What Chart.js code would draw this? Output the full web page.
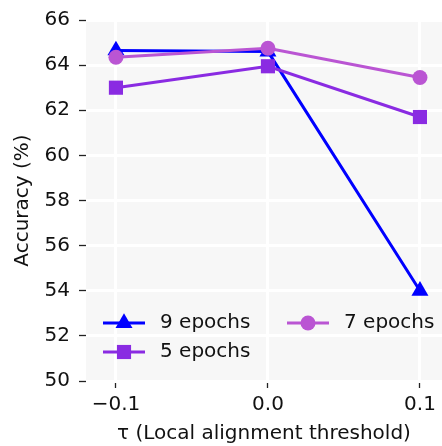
<!DOCTYPE html>
<html>
<head>
<meta charset="utf-8">
<script src="https://cdn.jsdelivr.net/npm/chart.js@4/dist/chart.umd.min.js"></script>
<style>
  html, body { margin: 0; padding: 0; background: #fff; }
  #wrap { width: 442px; height: 446px; }
</style>
</head>
<body>
<div id="wrap"><canvas id="chartTau" width="442" height="446"></canvas></div>
<script>
// ── Datos ──
const tauValues  = [-0.1, 0.0, 0.1];
const tauLabels  = ['\u22120.1', '0.0', '0.1'];
const yTicks     = [50, 52, 54, 56, 58, 60, 62, 64, 66];
const acc9epochs = [64.65, 64.6, 54.0];
const acc5epochs = [63.0, 63.95, 61.7];
const acc7epochs = [64.35, 64.75, 63.45];

const FONT = "'DejaVu Sans', sans-serif";
const C9 = '#0000ff', C5 = '#8a2be2', C7 = '#ba55d3';

const series = [
    { label: '9 epochs', data: acc9epochs, color: C9, style: 'triangle', radius: 9.8, order: 3 },
    { label: '5 epochs', data: acc5epochs, color: C5, style: 'rect',     radius: 10,  order: 2 },
    { label: '7 epochs', data: acc7epochs, color: C7, style: 'circle',   radius: 7.5, order: 1 }
];

// ── Fondo gris claro del área de la gráfica ──
const bgPlugin = {
    id: 'bgArea',
    beforeDraw(chart) {
        const a = chart.chartArea, ctx = chart.ctx;
        ctx.save();
        ctx.fillStyle = '#f7f7f7';
        ctx.fillRect(a.left, a.top, a.right - a.left, a.bottom - a.top);
        ctx.restore();
    }
};

// ── Marcador para la leyenda ──
function _marker(ctx, style, x, y, r, color) {
    ctx.fillStyle = color;
    ctx.beginPath();
    if (style === 'triangle') {
        ctx.moveTo(x, y - r);
        ctx.lineTo(x + Math.sin(2 * Math.PI / 3) * r, y + r / 2);
        ctx.lineTo(x - Math.sin(2 * Math.PI / 3) * r, y + r / 2);
        ctx.closePath();
    } else if (style === 'rect') {
        const s = r * Math.SQRT1_2;
        ctx.rect(x - s, y - s, 2 * s, 2 * s);
    } else {
        ctx.arc(x, y, r, 0, Math.PI * 2);
    }
    ctx.fill();
}

// ── Leyenda en dos columnas (orden por columna, como matplotlib) ──
const legendPlugin = {
    id: 'legendCols',
    afterDatasetsDraw(chart) {
        const a = chart.chartArea, ctx = chart.ctx;
        const slots = [
            { dx: 17,  dy: -58 },
            { dx: 17,  dy: -29 },
            { dx: 201, dy: -58 }
        ];
        ctx.save();
        series.forEach((s, i) => {
            const x0 = a.left + slots[i].dx;
            const y  = a.bottom + slots[i].dy;
            ctx.strokeStyle = s.color;
            ctx.lineWidth = 3;
            ctx.beginPath();
            ctx.moveTo(x0, y);
            ctx.lineTo(x0 + 42, y);
            ctx.stroke();
            _marker(ctx, s.style, x0 + 21, y, s.radius, s.color);
            ctx.fillStyle = '#111';
            ctx.font = '20px ' + FONT;
            ctx.textBaseline = 'middle';
            ctx.textAlign = 'left';
            ctx.fillText(s.label, x0 + 57, y);
        });
        ctx.restore();
    }
};

new Chart(document.getElementById('chartTau'), {
    type: 'line',
    data: {
        datasets: series.map(s => ({
            label: s.label,
            data: tauValues.map((t, i) => ({ x: t, y: s.data[i] })),
            borderColor: s.color,
            backgroundColor: s.color,
            borderWidth: 3,
            pointStyle: s.style,
            pointRadius: s.radius,
            pointBorderWidth: 0,
            pointHoverRadius: s.radius,
            order: s.order
        }))
    },
    options: {
        responsive: false,
        animation: false,
        events: [],
        layout: { autoPadding: false, padding: { top: 20, right: 0, bottom: 0, left: 0 } },
        plugins: { legend: { display: false }, tooltip: { enabled: false } },
        scales: {
            x: {
                type: 'linear',
                min: -0.1197,
                max: 0.1145,
                afterBuildTicks: sc => { sc.ticks = tauValues.map(v => ({ value: v })); },
                afterFit: sc => { sc.height = 65; sc.paddingLeft = 0; sc.paddingRight = 0; },
                border: { display: false },
                grid: { color: '#fff', lineWidth: 3, tickColor: '#222', tickLength: 7, tickWidth: 1.3 },
                ticks: {
                    color: '#111', font: { family: FONT, size: 20 }, padding: 5,
                    maxRotation: 0,
                    callback: v => tauLabels[tauValues.indexOf(v)] ?? ''
                },
                title: {
                    display: true, text: '\u03c4 (Local alignment threshold)',
                    color: '#111', font: { family: FONT, size: 20 }, padding: { top: 1, bottom: 0 }
                }
            },
            y: {
                min: 50,
                max: 66,
                afterBuildTicks: sc => { sc.ticks = yTicks.map(v => ({ value: v })); },
                afterFit: sc => { sc.width = 86; sc.paddingTop = 0; sc.paddingBottom = 0; },
                border: { display: false },
                grid: { color: '#fff', lineWidth: 3, tickColor: '#222', tickLength: 7, tickWidth: 1.3 },
                ticks: { color: '#111', font: { family: FONT, size: 20 }, padding: 9 },
                title: {
                    display: true, text: 'Accuracy (%)',
                    color: '#111', font: { family: FONT, size: 20 }, padding: { top: 11, bottom: 0 }
                }
            }
        }
    },
    plugins: [bgPlugin, legendPlugin]
});
</script>
</body>
</html>
